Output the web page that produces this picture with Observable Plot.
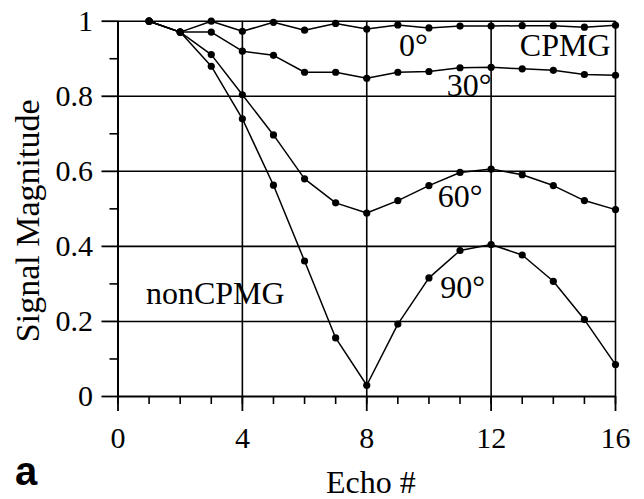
<!DOCTYPE html>
<html>
<head>
<meta charset="utf-8">
<script src="https://cdn.jsdelivr.net/npm/d3@7"></script>
<script src="https://cdn.jsdelivr.net/npm/@observablehq/plot@0.6"></script>
<style>
  html, body { margin: 0; padding: 0; background: white; }
</style>
</head>
<body>
<div id="chart"></div>
<script>
const echo = [1, 2, 3, 4, 5, 6, 7, 8, 9, 10, 11, 12, 13, 14, 15, 16];
const deg0  = [1, 0.971, 1.0, 0.973, 0.997, 0.976, 0.994, 0.979, 0.990, 0.982, 0.987, 0.987, 0.988, 0.988, 0.984, 0.989];
const deg30 = [1, 0.971, 0.971, 0.920, 0.909, 0.864, 0.864, 0.848, 0.864, 0.866, 0.876, 0.877, 0.873, 0.869, 0.858, 0.856];
const deg60 = [1, 0.971, 0.911, 0.804, 0.697, 0.580, 0.516, 0.489, 0.522, 0.562, 0.597, 0.606, 0.591, 0.562, 0.522, 0.498];
const deg90 = [1, 0.971, 0.880, 0.740, 0.563, 0.361, 0.156, 0.030, 0.193, 0.316, 0.389, 0.405, 0.377, 0.307, 0.205, 0.085];
const seriesNames = ["0°", "30°", "60°", "90°"];

const xTicks = [0, 4, 8, 12, 16];
const xMinorTicks = [0, 1, 2, 3, 4, 5, 6, 7, 8, 9, 10, 11, 12, 13, 14, 15, 16];
const yTicks = [0, 0.2, 0.4, 0.6, 0.8, 1];
const yTickLabels = ["0", "0.2", "0.4", "0.6", "0.8", "1"];
const yMinorTicks = [0.1, 0.3, 0.5, 0.7, 0.9];

const annotLabels = ["0°", "CPMG", "30°", "60°", "90°", "nonCPMG"];
const annotX = [9.50, 14.38, 11.29, 11.0, 11.08, 3.13];
const annotY = [0.935, 0.935, 0.829, 0.531, 0.291, 0.274];

const xLabel = "Echo #";
const yLabel = "Signal Magnitude";
const panelLabel = "a";

const rows = [];
[deg0, deg30, deg60, deg90].forEach((vals, s) => {
  vals.forEach((v, i) => rows.push({echo: echo[i], value: v, series: seriesNames[s]}));
});

const serif = "Liberation Serif, Times New Roman, serif";
const sans = "Liberation Sans, Arial, sans-serif";

const chart = Plot.plot({
  width: 644,
  height: 499,
  marginLeft: 117.5,
  marginRight: 29,
  marginTop: 20.7,
  marginBottom: 103,
  style: {fontFamily: serif, background: "white", color: "black"},
  x: {domain: [0, 16]},
  y: {domain: [0, 1]},
  marks: [
    Plot.gridX(xTicks.slice(1), {stroke: "black", strokeOpacity: 1, strokeWidth: 1.6}),
    Plot.gridY(yTicks.slice(1), {stroke: "black", strokeOpacity: 1, strokeWidth: 1.6}),
    Plot.ruleX([0], {stroke: "black", strokeWidth: 2}),
    Plot.ruleY([0], {stroke: "black", strokeWidth: 2}),
    Plot.axisX(xMinorTicks, {tickSize: 8, tickFormat: () => "", label: null, strokeWidth: 1.6}),
    Plot.axisX(xTicks, {tickSize: 15, tickPadding: 15, fontSize: 30, label: null, strokeWidth: 1.8}),
    Plot.axisY(yMinorTicks, {tickSize: 8, tickFormat: () => "", label: null, strokeWidth: 1.6}),
    Plot.axisY(yTicks, {tickSize: 16, tickPadding: 9, fontSize: 30, label: null, strokeWidth: 1.8,
      tickFormat: d => yTickLabels[yTicks.indexOf(d)]}),
    Plot.line(rows, {x: "echo", y: "value", z: "series", stroke: "black", strokeWidth: 1.5}),
    Plot.dot(rows, {x: "echo", y: "value", r: 3.6, fill: "black", stroke: "none"}),
    Plot.text(annotLabels, {x: annotX, y: annotY, text: d => d, fontSize: 32, fill: "black"}),
    Plot.text([yLabel], {frameAnchor: "left", textAnchor: "middle", lineAnchor: "middle", dx: -90, dy: 12, rotate: -90, fontSize: 34, fill: "black"}),
    Plot.text([xLabel], {frameAnchor: "bottom", textAnchor: "middle", lineAnchor: "middle", dx: 4, dy: 86, fontSize: 32, fill: "black"}),
    Plot.text([panelLabel], {frameAnchor: "bottom-left", textAnchor: "start", lineAnchor: "middle", dx: -103, dy: 76, fontSize: 40,
      fontWeight: "bold", fill: "black"})
  ]
});
d3.select(chart).selectAll("text").style("font-family", serif);
d3.select(chart).selectAll("text").filter(function() { return this.textContent === panelLabel; })
  .style("font-family", sans);
document.getElementById("chart").appendChild(chart);
</script>
</body>
</html>
